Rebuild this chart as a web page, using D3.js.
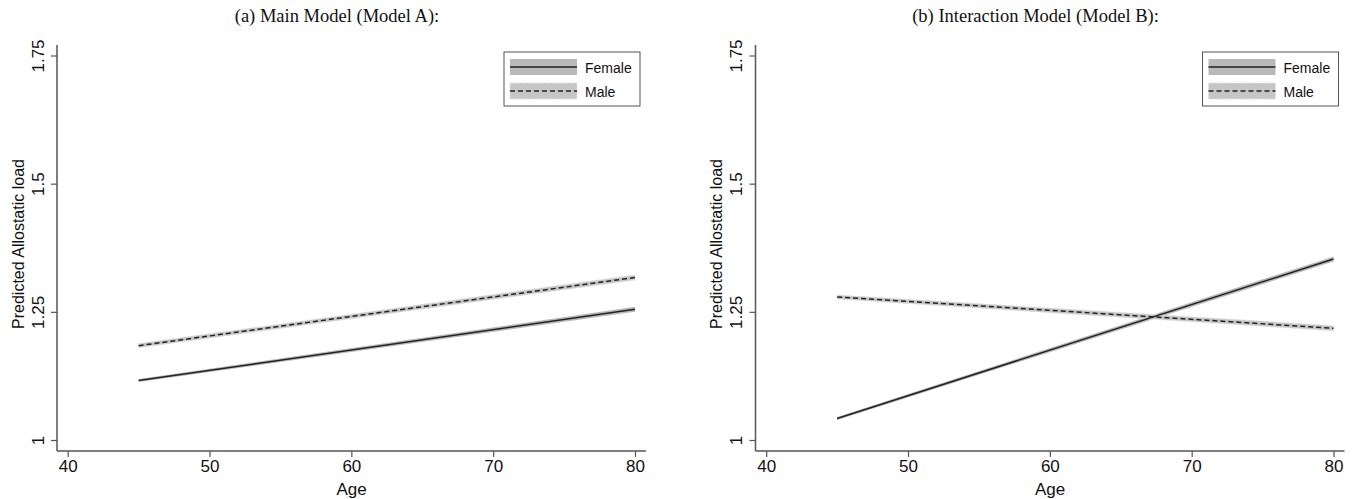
<!DOCTYPE html>
<head>
<meta charset="utf-8">
<title>Predicted Allostatic load</title>
<script src="https://cdn.jsdelivr.net/npm/d3@7"></script>
<style>
  body { margin: 0; background: #fff; }
  text { font-family: "Liberation Sans", Arial, sans-serif; fill: #111; }
  .title { font-family: "Liberation Serif", "Times New Roman", serif; }
</style>
</head>
<body>
<div id="container"></div>
<script>

// Données (valeurs prédites aux âges 45 et 80)
const ages = [45, 80];
const seriesNames = ["Female", "Male"];
const panelTitles = ["(a) Main Model (Model A):", "(b) Interaction Model (Model B):"];

const modelA_female = [1.116, 1.255];
const modelA_male = [1.184, 1.317];
const modelB_female = [1.042, 1.353];
const modelB_male = [1.279, 1.218];

// demi-largeur des intervalles de confiance
const ciA_female = [0.003, 0.005];
const ciA_male = [0.004, 0.005];
const ciB_female = [0.003, 0.005];
const ciB_male = [0.004, 0.005];

const xTicks = [40, 50, 60, 70, 80];
const yTicks = [1, 1.25, 1.5, 1.75];

const panels = [
  { title: panelTitles[0], series: [
      { name: seriesNames[0], values: modelA_female, ci: ciA_female },
      { name: seriesNames[1], values: modelA_male, ci: ciA_male } ] },
  { title: panelTitles[1], series: [
      { name: seriesNames[0], values: modelB_female, ci: ciB_female },
      { name: seriesNames[1], values: modelB_male, ci: ciB_male } ] }
];

const W = 1355, H = 499;
const svg = d3.select("#container").append("svg")
  .attr("width", W).attr("height", H);

// Positions des panneaux
const panelOffset = 698.5;
const axisLeft = 57, axisRight = 646, axisTop = 45, axisBottom = 451;

const x = d3.scaleLinear().domain([40, 80]).range([67.7, 635]);
const y = d3.scaleLinear().domain([1, 1.75]).range([440, 55.5]);

const lineColor = "#222";
const axisColor = "#555";
const styles = {
  Female: { band: "#b9b9b9", bandStroke: "none", dash: null },
  Male: { band: "#c6c6c6", bandStroke: "#e2e2e2", dash: "5,3" }
};

panels.forEach((p, i) => {
  const g = svg.append("g").attr("transform", `translate(${i * panelOffset},0)`);

  // Titre
  g.append("text").attr("class", "title")
    .attr("x", 337).attr("y", 22)
    .attr("text-anchor", "middle")
    .style("font-size", "18.5px")
    .text(p.title);

  // Bandes de confiance
  const area = d3.area()
    .x(d => x(d.age))
    .y0(d => y(d.v - d.ci))
    .y1(d => y(d.v + d.ci));
  const line = d3.line().x(d => x(d.age)).y(d => y(d.v));

  p.series.forEach(s => {
    const pts = ages.map((a, k) => ({ age: a, v: s.values[k], ci: s.ci[k] }));
    const st = styles[s.name];
    g.append("path")
      .attr("d", area(pts))
      .attr("fill", st.band)
      .attr("stroke", st.bandStroke)
      .attr("stroke-width", 0.8)
      .attr("stroke-dasharray", st.dash ? "4,2" : null);
  });
  p.series.forEach(s => {
    const pts = ages.map((a, k) => ({ age: a, v: s.values[k] }));
    const st = styles[s.name];
    g.append("path")
      .attr("d", line(pts))
      .attr("fill", "none")
      .attr("stroke", lineColor)
      .attr("stroke-width", 1.5)
      .attr("stroke-dasharray", st.dash);
  });

  // Axe X
  const xAxis = g.append("g")
    .attr("transform", `translate(0,${axisBottom})`)
    .call(d3.axisBottom(x).tickValues(xTicks).tickSize(6).tickPadding(3));
  xAxis.select(".domain").remove();
  xAxis.selectAll(".tick line").attr("stroke", axisColor).attr("stroke-width", 1.2);
  xAxis.selectAll("text").style("font-size", "17px").attr("fill", "#111");
  g.append("line")
    .attr("x1", axisLeft).attr("x2", axisRight)
    .attr("y1", axisBottom).attr("y2", axisBottom)
    .attr("stroke", axisColor).attr("stroke-width", 1.5);

  // Axe Y
  const yAxis = g.append("g")
    .attr("transform", `translate(${axisLeft},0)`)
    .call(d3.axisLeft(y).tickValues(yTicks).tickSize(6).tickFormat(d => String(d)));
  yAxis.select(".domain").remove();
  yAxis.selectAll(".tick line").attr("stroke", axisColor).attr("stroke-width", 1.2);
  yAxis.selectAll("text")
    .attr("x", null).attr("dy", null)
    .attr("transform", "translate(-19,0) rotate(-90)")
    .attr("text-anchor", "middle")
    .attr("dominant-baseline", "central")
    .style("font-size", "17px").attr("fill", "#111");
  g.append("line")
    .attr("x1", axisLeft).attr("x2", axisLeft)
    .attr("y1", axisTop).attr("y2", axisBottom)
    .attr("stroke", axisColor).attr("stroke-width", 1.5);

  // Titres des axes
  g.append("text")
    .attr("x", (axisLeft + axisRight) / 2).attr("y", 495)
    .attr("text-anchor", "middle")
    .style("font-size", "17px")
    .text("Age");
  g.append("text")
    .attr("transform", `translate(18,${(axisTop + axisBottom) / 2 - 4}) rotate(-90)`)
    .attr("text-anchor", "middle")
    .attr("dominant-baseline", "central")
    .style("font-size", "16px")
    .text("Predicted Allostatic load");

  // Légende
  const leg = g.append("g").attr("transform", "translate(504,52)");
  leg.append("rect")
    .attr("width", 136).attr("height", 54)
    .attr("fill", "#fff").attr("stroke", axisColor).attr("stroke-width", 1);
  seriesNames.forEach((name, k) => {
    const st = styles[name];
    const cy = 15 + k * 24;
    leg.append("rect")
      .attr("x", 6).attr("y", cy - 8).attr("width", 67).attr("height", 16)
      .attr("fill", st.band)
      .attr("stroke", st.bandStroke)
      .attr("stroke-dasharray", st.dash ? "4,2" : null);
    leg.append("line")
      .attr("x1", 6).attr("x2", 73).attr("y1", cy).attr("y2", cy)
      .attr("stroke", lineColor).attr("stroke-width", 1.4)
      .attr("stroke-dasharray", st.dash);
    leg.append("text")
      .attr("x", 81).attr("y", cy + 1)
      .attr("dominant-baseline", "central")
      .style("font-size", "14px")
      .text(name);
  });
});

</script>
</body>
